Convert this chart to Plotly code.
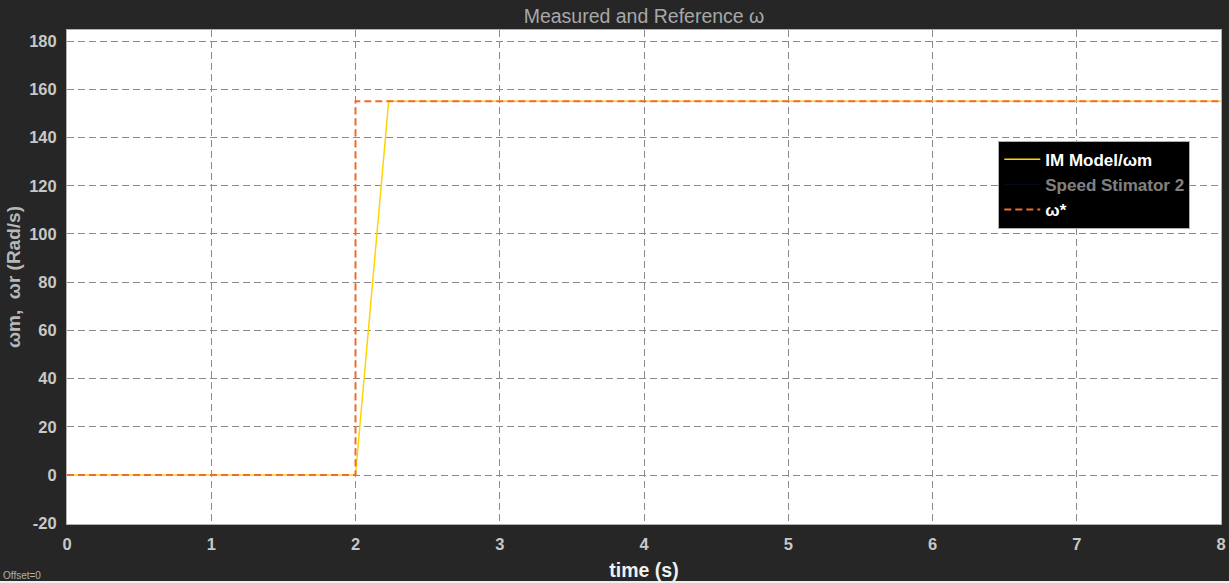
import plotly.graph_objects as go

# Data
t_model = [0.0, 2.0, 2.23, 8.0]
w_model = [0.0, 0.0, 155.0, 155.0]
t_est = [0.0, 2.0, 2.23, 8.0]
w_est = [0.0, 0.0, 155.0, 155.0]
t_ref = [0.0, 2.0, 2.0, 8.0]
w_ref = [0.0, 0.0, 155.0, 155.0]
x_ticks = [0, 1, 2, 3, 4, 5, 6, 7, 8]
y_ticks = [-20, 0, 20, 40, 60, 80, 100, 120, 140, 160, 180]
y_ticktext = ["-20", "0", "20", "40", "60", "80", "100", "120", "140", "160", "180"]

FONT = "Arial, Liberation Sans, sans-serif"
BG = "#262626"

fig = go.Figure()
fig.add_trace(go.Scatter(x=t_est, y=w_est, mode="lines", name="Speed Stimator 2",
                         line=dict(color="#0b1a4a", width=1), visible="legendonly",
                         legendrank=2))
fig.add_trace(go.Scatter(x=t_model, y=w_model, mode="lines", name="IM Model/ωm",
                         line=dict(color="#FFD400", width=1.5), legendrank=1))
fig.add_trace(go.Scatter(x=t_ref, y=w_ref, mode="lines", name="ω*",
                         line=dict(color="#F26A2E", width=2, dash="7px,4px"),
                         legendrank=3))

axis_common = dict(
    showgrid=True, gridcolor="#8a8a8a", griddash="7px,4px", gridwidth=1,
    showline=True, linecolor="#b0b0b0", linewidth=1, mirror=True,
    zeroline=False, ticks="", automargin=False,
    tickfont=dict(family=FONT, size=16.5, color="#c8c8c8", weight="bold"),
)

fig.update_layout(
    width=1229, height=583,
    paper_bgcolor=BG, plot_bgcolor="white",
    margin=dict(l=67, r=8, t=30, b=59),
    font=dict(family=FONT),
    title=dict(text="Measured and Reference ω", x=0.524, xanchor="center", y=0.972, yanchor="middle",
               font=dict(family=FONT, size=19.5, color="#a8a8a8")),
    xaxis=dict(range=[0, 8], tickvals=x_ticks, ticklabelstandoff=5,
               title=dict(text="time (s)", standoff=11,
                          font=dict(family=FONT, size=19.5, color="#f0f0f0", weight="bold")),
               **axis_common),
    yaxis=dict(range=[-20.3, 184.6], tickvals=y_ticks, ticktext=y_ticktext, ticklabelstandoff=6,
               title=dict(text="ωm,  ωr (Rad/s)", standoff=3,
                          font=dict(family=FONT, size=19, color="#b8b8b8", weight="bold")),
               **axis_common),
    showlegend=True,
    legend=dict(x=0.807, y=0.776, xanchor="left", yanchor="top",
                bgcolor="black", bordercolor="#b0b0b0", borderwidth=1,
                font=dict(family=FONT, size=17, color="white", weight="bold"),
                itemwidth=36, tracegroupgap=0),
)

fig.add_annotation(text="Offset=0", xref="paper", yref="paper", x=-0.057, y=-0.104,
                   xanchor="left", yanchor="middle", showarrow=False,
                   font=dict(family=FONT, size=10, color="#b0b0b0"))

# thin light strip at the very bottom of the figure
fig.add_shape(type="rect", xref="paper", yref="paper", x0=-0.06, x1=1.01,
              y0=-59 / 494, y1=-57 / 494, fillcolor="#eeeeee", line=dict(width=0),
              layer="above")

fig.write_html("out.html")
